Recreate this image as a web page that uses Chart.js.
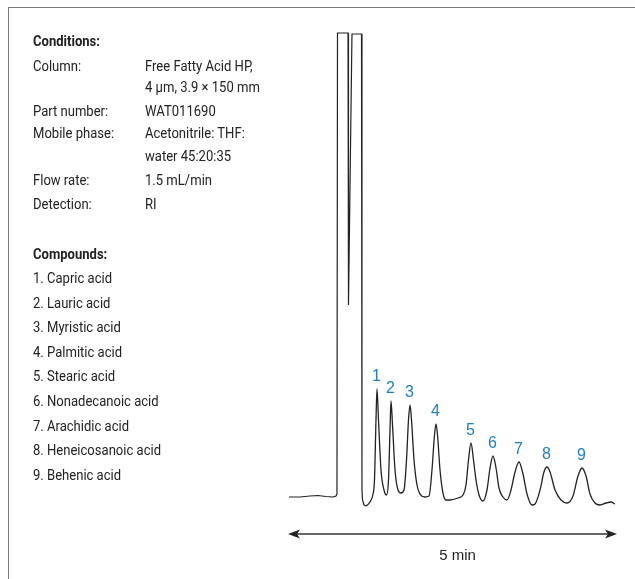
<!DOCTYPE html>
<html><head><meta charset="utf-8">
<script src="https://cdn.jsdelivr.net/npm/chart.js@4.4.0/dist/chart.umd.min.js"></script>
<style>
html,body{margin:0;padding:0;background:#fff;width:635px;height:579px;overflow:hidden}
#wrap{position:relative;width:635px;height:579px}
#c{position:absolute;left:0;top:0}
#frame{position:absolute;left:8px;top:7px;width:700px;height:700px;border-top:1.5px solid #7a7a7a;border-left:1.5px solid #7a7a7a}
.t{position:absolute;font-family:Roboto,"Noto Sans",sans-serif;font-size:14.5px;color:#222;white-space:nowrap;line-height:20px;transform:scaleX(0.9);transform-origin:0 50%}
.b{font-weight:700}
</style>
</head><body>
<div id="wrap">
<canvas id="c" width="635" height="579"></canvas>
<div id="frame"></div>
<div id="text"></div>
</div>
<script>
// ---- data (time in minutes, detector signal in arbitrary units) ----
const solventTime   = [0.000,0.167,0.319,0.441,0.562,0.669,0.714,0.729,0.737,0.897,0.904,0.957,1.102,1.109,1.117,1.140,1.170];
const solventSignal = [0,0,1,1.5,0.5,0,1,3,464,464,192,463,463,7,-3,-8,-9];

const peakTime   = [1.170,1.231,1.277,1.299,1.322,1.337,1.360,1.398,1.444,1.482,1.512,1.535,1.550,1.573,1.611,1.657,1.702,1.748,1.786,1.816,1.839,1.862,1.900,1.945,1.991,2.067,2.128,2.173,2.211,2.234,2.257,2.295,2.340,2.386,2.447,2.568,2.644,2.690,2.728,2.766,2.804,2.842,2.888,2.948,3.009,3.055,3.100,3.146,3.191,3.252,3.313,3.374,3.435,3.495,3.556,3.617,3.693,3.739,3.815,3.875,3.921,3.967,4.043,4.134,4.225,4.316,4.392,4.453,4.514,4.574,4.650,4.726,4.818,4.894,4.954];
const peakSignal = [-9,-5,3,17,77,108,77,27,7,2,17,67,96,72,27,7,4,7,37,77,92,77,37,12,3,0,1,27,62,73,62,27,4,-3,-3,-1,2,12,37,54,37,17,2,-4,7,29,41,29,9,0,-3,7,25,35,23,3,-8,-7,7,25,30,25,7,-3,-6,1,21,29,21,3,-6,-8,-6,-5,-7];

const peakNumbers    = ['1','2','3','4','5','6','7','8','9'];
const peakApexTime   = [1.337,1.550,1.839,2.234,2.766,3.100,3.495,3.921,4.453];
const peakApexSignal = [108,96,92,73,54,41,35,30,29];

const scaleSpanMin = 5;
const scaleLabel = '5 min';

const conditionLabels = ['Column:','Part number:','Mobile phase:','Flow rate:','Detection:'];
const conditionValues = [['Free Fatty Acid HP,','4 µm, 3.9 × 150 mm'],['WAT011690'],['Acetonitrile: THF:','water 45:20:35'],['1.5 mL/min'],['RI']];
const compounds = ['1. Capric acid','2. Lauric acid','3. Myristic acid','4. Palmitic acid','5. Stearic acid','6. Nonadecanoic acid','7. Arachidic acid','8. Heneicosanoic acid','9. Behenic acid'];

// ---- text panel ----
const box = document.getElementById('text');
function addText(str, x, yc, bold){
  const d = document.createElement('div');
  d.className = 't' + (bold ? ' b' : '');
  d.textContent = str;
  d.style.left = x + 'px';
  d.style.top = (yc - 10) + 'px';
  box.appendChild(d);
}
addText('Conditions:', 33, 42, true);
const condRowY = [[67,88],[112],[134,157],[181],[205]];
conditionLabels.forEach((l,i)=>{
  addText(l, 33, condRowY[i][0]);
  conditionValues[i].forEach((v,j)=>addText(v, 145, condRowY[i][j]));
});
addText('Compounds:', 33, 255, true);
compounds.forEach((c,i)=>addText(c, 33, 279 + i*24.6));

// ---- chart ----
const overlay = {
  id:'overlay',
  afterDatasetsDraw(chart){
    const ctx = chart.ctx, xs = chart.scales.x, ys = chart.scales.y;
    ctx.save();
    ctx.fillStyle = '#2181c0';
    ctx.font = '16px "Liberation Sans", Arial, sans-serif';
    ctx.textAlign = 'center';
    ctx.textBaseline = 'middle';
    peakNumbers.forEach((n,i)=>{
      ctx.fillText(n, xs.getPixelForValue(peakApexTime[i]) - 0.5, ys.getPixelForValue(peakApexSignal[i]) - 12);
    });
    // time bar
    const x0 = xs.getPixelForValue(0) - 1, x1 = xs.getPixelForValue(scaleSpanMin) - 1;
    const y = chart.chartArea.bottom + 17;
    ctx.strokeStyle = '#333'; ctx.lineWidth = 1.5;
    ctx.beginPath(); ctx.moveTo(x0 + 6, y); ctx.lineTo(x1 - 6, y); ctx.stroke();
    ctx.fillStyle = '#222';
    const head = (tip, dir)=>{
      ctx.beginPath();
      ctx.moveTo(tip, y);
      ctx.lineTo(tip + dir*12, y - 4.5);
      ctx.lineTo(tip + dir*9, y);
      ctx.lineTo(tip + dir*12, y + 4.5);
      ctx.closePath(); ctx.fill();
    };
    head(x0, 1); head(x1, -1);
    ctx.fillStyle = '#222';
    ctx.font = '15px "Liberation Sans", Arial, sans-serif';
    ctx.fillText(scaleLabel, (x0 + x1)/2 + 5, y + 22);
    ctx.restore();
  }
};

new Chart(document.getElementById('c'), {
  type:'line',
  data:{
    datasets:[
      {data: solventTime.map((t,i)=>({x:t,y:solventSignal[i]})), borderColor:'#222', borderWidth:1.2, pointRadius:0, tension:0, fill:false},
      {data: peakTime.map((t,i)=>({x:t,y:peakSignal[i]})), borderColor:'#222', borderWidth:1.3, pointRadius:0, cubicInterpolationMode:'monotone', fill:false}
    ]
  },
  options:{
    responsive:false, animation:false, events:[],
    layout:{padding:{left:289,right:17,top:17,bottom:62}},
    scales:{
      x:{type:'linear', min:0, max:5, display:false},
      y:{min:-20, max:480, display:false}
    },
    plugins:{legend:{display:false}, tooltip:{enabled:false}}
  },
  plugins:[overlay]
});
</script>
</body></html>
